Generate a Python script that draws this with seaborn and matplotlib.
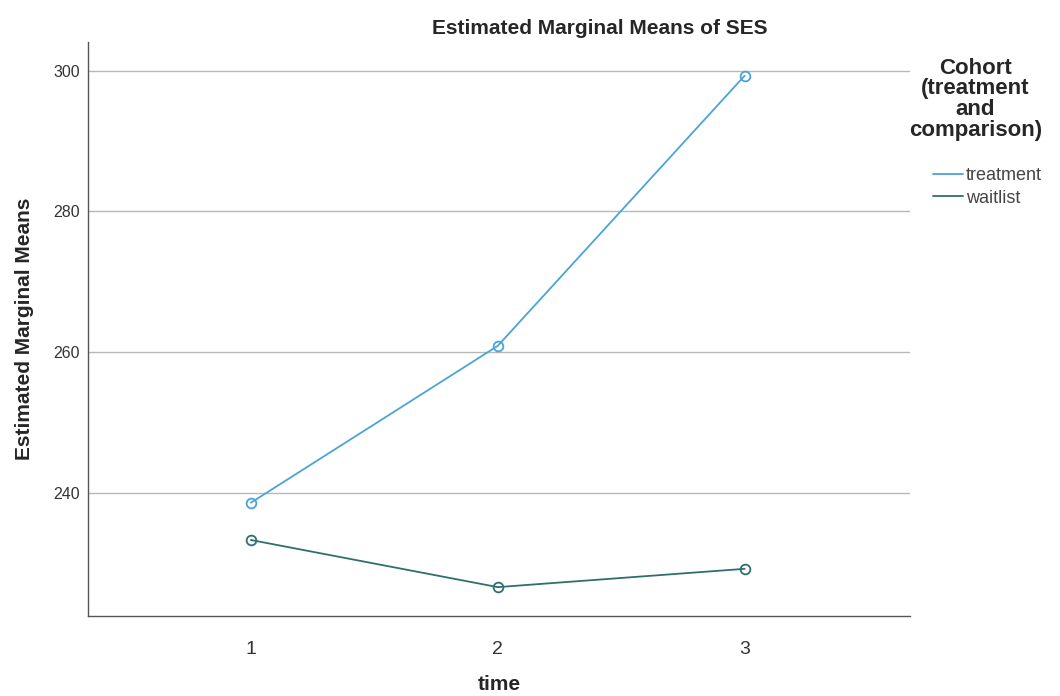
import pandas as pd
import matplotlib.pyplot as plt
import seaborn as sns
from matplotlib.lines import Line2D

# Estimated marginal means
time_points = [1, 2, 3]
treatment = [238.6, 260.9, 299.3]
waitlist = [233.3, 226.6, 229.2]
groups = ['treatment', 'waitlist']
colors = {'treatment': '#4ca3d9', 'waitlist': '#2f6f6f'}

df = pd.DataFrame({
    'time': time_points * 2,
    'mean': treatment + waitlist,
    'cohort': ['treatment'] * 3 + ['waitlist'] * 3,
})

sns.set_style('white')
plt.rcParams['font.family'] = ['Liberation Sans', 'DejaVu Sans']

fig = plt.figure(figsize=(10.6, 6.96), dpi=100)
ax = fig.add_axes([0.083, 0.115, 0.7755, 0.8247])

sns.lineplot(data=df, x='time', y='mean', hue='cohort', palette=colors,
             marker='o', markersize=7, linewidth=1.3, legend=False, ax=ax)

# open circle markers in the line colour
for line in ax.lines:
    c = line.get_color()
    line.set_markerfacecolor('none')
    line.set_markeredgecolor(c)
    line.set_markeredgewidth(1.3)

ax.set_xlim(0.34, 3.67)
ax.set_ylim(222.5, 304.1)
ax.set_xticks(time_points)
ax.set_yticks([240, 260, 280, 300])
ax.tick_params(axis='x', labelsize=14, length=0, pad=18, colors='#333333')
ax.tick_params(axis='y', labelsize=11.5, length=0, pad=6, colors='#333333')
ax.yaxis.grid(True, color='#b8b8b8', linewidth=1)
ax.set_axisbelow(True)

for s in ['top', 'right']:
    ax.spines[s].set_visible(False)
for s in ['left', 'bottom']:
    ax.spines[s].set_color('#555555')
    ax.spines[s].set_linewidth(1)

ax.set_xlabel('time', fontsize=15, fontweight='bold', labelpad=12)
ax.set_ylabel('Estimated Marginal Means', fontsize=15, fontweight='bold', labelpad=14)
fig.text(600 / 1060, 1 - 28 / 696, 'Estimated Marginal Means of SES',
         fontsize=15, fontweight='bold', ha='center', va='center')

handles = [Line2D([0], [0], color=colors[g], linewidth=1.3) for g in groups]
leg = ax.legend(handles, groups, title='Cohort\n(treatment\nand\ncomparison)',
                loc='upper left', bbox_to_anchor=(0.99, 0.985), frameon=False,
                fontsize=13, handlelength=1.7, handletextpad=0.15, labelspacing=0.3,
                borderaxespad=0.0)
title = leg.get_title()
title.set_fontweight('bold')
title.set_fontsize(16)
title.set_multialignment('center')
title.set_linespacing(0.98)
leg._legend_box.align = 'right'
leg._legend_box.sep = 19
for t in leg.get_texts():
    t.set_color('#444444')

fig.savefig('out.png', dpi=100)
